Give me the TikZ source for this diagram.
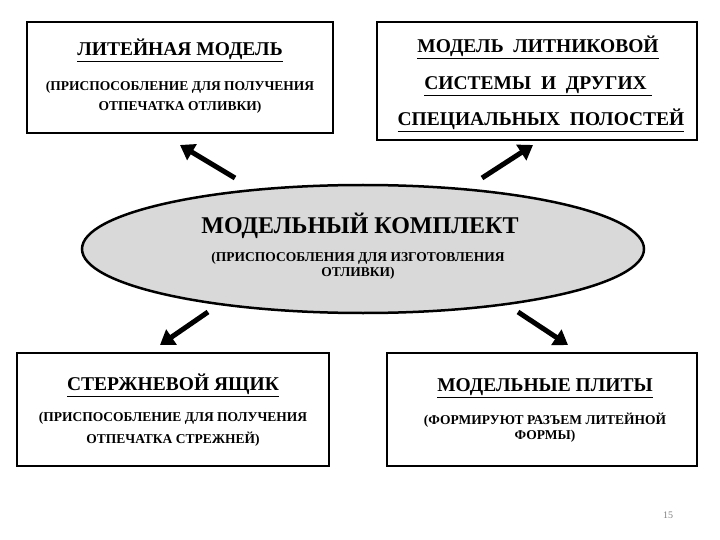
\documentclass[tikz,border=0pt]{standalone}
\usepackage{fontspec}
\setmainfont{Liberation Serif}
\usetikzlibrary{arrows.meta,shapes.geometric}
\tikzset{
 box/.style={draw,line width=1.5pt,anchor=north west,inner sep=0pt},
 big/.style={font=\bfseries\fontsize{19.5}{22}\selectfont},
 small/.style={font=\bfseries\fontsize{13.5}{15}\selectfont},
 arr/.style={line width=5pt,-{Triangle[length=14pt,width=18pt]}}
}
\begin{document}
\begin{tikzpicture}[x=1pt,y=-1pt]
\useasboundingbox (0,0) rectangle (720,540);
\draw[box] (27,22) rectangle (333,133);
\draw[box] (377,22) rectangle (697,140);
\draw[box] (17,353) rectangle (329,466);
\draw[box] (387,353) rectangle (697,466);
\node[big] (t1) at (180,50) {\underline{ЛИТЕЙНАЯ МОДЕЛЬ}};
\node[small] (t2) at (180,87) {(ПРИСПОСОБЛЕНИЕ ДЛЯ ПОЛУЧЕНИЯ};
\node[small] (t3) at (180,107) {ОТПЕЧАТКА ОТЛИВКИ)};
\node[big] (r1) at (538,47) {\underline{МОДЕЛЬ\ \ ЛИТНИКОВОЙ}};
\node[big] (r2) at (538,86) {\underline{СИСТЕМЫ\ \ И\ \ ДРУГИХ\ }};
\node[big] (r3) at (541,120) {\underline{СПЕЦИАЛЬНЫХ\ \ ПОЛОСТЕЙ}};
\node[draw,line width=2.5pt,fill=gray!30,ellipse,minimum width=562pt,minimum height=128pt] (e) at (363,249) {};
\node[font=\bfseries\fontsize{24}{26}\selectfont] (e1) at (360,226) {МОДЕЛЬНЫЙ КОМПЛЕКТ};
\node[small,align=center] (e2) at (358,266) {(ПРИСПОСОБЛЕНИЯ ДЛЯ ИЗГОТОВЛЕНИЯ\\ОТЛИВКИ)};
\node[big] (b1) at (173,385) {\underline{СТЕРЖНЕВОЙ ЯЩИК}};
\node[small] (b2) at (173,418) {(ПРИСПОСОБЛЕНИЕ ДЛЯ ПОЛУЧЕНИЯ};
\node[small] (b3) at (173,439) {ОТПЕЧАТКА СТРЕЖНЕЙ)};
\node[big] (c1) at (545,388) {\underline{МОДЕЛЬНЫЕ ПЛИТЫ}};
\node[small,align=center] (c2) at (545,428) {(ФОРМИРУЮТ РАЗЪЕМ ЛИТЕЙНОЙ\\ФОРМЫ)};
\node[text=gray,font=\fontsize{10}{12}\selectfont] (pg) at (668,515) {15};
\coordinate (a1s) at (235,178); \coordinate (a1e) at (180,145);
\coordinate (a2s) at (482,178); \coordinate (a2e) at (533,145);
\coordinate (a3s) at (208,312); \coordinate (a3e) at (160,345);
\coordinate (a4s) at (518,312); \coordinate (a4e) at (568,345);
\draw[arr] (a1s) -- (a1e);
\draw[arr] (a2s) -- (a2e);
\draw[arr] (a3s) -- (a3e);
\draw[arr] (a4s) -- (a4e);
\end{tikzpicture}
\end{document}
